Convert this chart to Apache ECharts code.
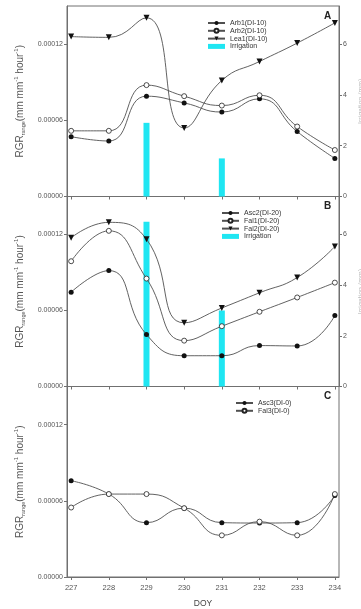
<!DOCTYPE html>
<html>
<head>
<meta charset="utf-8">
<script src="https://cdn.jsdelivr.net/npm/echarts@6/dist/echarts.min.js"></script>
<style>html,body{margin:0;padding:0;background:#fff;}#c{width:361px;height:609px;}</style>
</head>
<body>
<div id="c"></div>
<script>
const days = [227, 228, 229, 230, 231, 232, 233, 234];
const xTicks = [227, 228, 229, 230, 231, 232, 233, 234];
const yTicks = [0, 0.00006, 0.00012];
const irrTicks = [0, 2, 4, 6];

// Panel A
const arb1 = [0.0000471, 0.0000437, 0.0000790, 0.0000737, 0.0000665, 0.0000769, 0.0000511, 0.0000300];
const arb2 = [0.0000517, 0.0000517, 0.0000877, 0.0000790, 0.0000716, 0.0000797, 0.0000551, 0.0000366];
const lea1 = [0.0001259, 0.0001253, 0.0001407, 0.0000540, 0.0000914, 0.0001063, 0.0001208, 0.0001367];
const irrDaysA = [229, 231];
const irrA = [2.9, 1.5];

// Panel B
const asc2 = [0.0000745, 0.0000915, 0.0000410, 0.0000243, 0.0000243, 0.0000323, 0.0000320, 0.0000560];
const fal1 = [0.0000989, 0.0001229, 0.0000852, 0.0000362, 0.0000476, 0.0000590, 0.0000703, 0.0000820];
const fal2 = [0.0001174, 0.0001296, 0.0001163, 0.0000503, 0.0000620, 0.0000740, 0.0000860, 0.0001105];
const irrDaysB = [229, 231];
const irrB = [6.5, 3.0];

// Panel C
const asc3 = [0.0000758, 0.0000653, 0.0000428, 0.0000542, 0.0000428, 0.0000425, 0.0000428, 0.0000642];
const fal3 = [0.0000547, 0.0000653, 0.0000653, 0.0000542, 0.0000328, 0.0000436, 0.0000328, 0.0000653];

const FONT = '"Liberation Sans", Arial, sans-serif';
const AX = '#707070';
const LINE = '#505050';
const CYAN = '#1fe6f2';

const pair = (xs, ys) => xs.map((x, i) => [x, ys[i]]);

const grids = [
  {left: 67, right: 22, top: 6, height: 190.5},
  {left: 67, right: 22, top: 196.5, height: 190},
  {left: 67, right: 22, top: 386.5, height: 190.5}
].map(g => Object.assign(g, {show: true, borderColor: AX, borderWidth: 1, containLabel: false, outerBoundsMode: 'none'}));

function xAxis(i, labels) {
  return {
    type: 'value', gridIndex: i, min: 226.89, max: 234.11,
    splitLine: {show: false},
    axisLine: {show: true, lineStyle: {color: AX, width: 1}},
    axisTick: {show: true, length: 3, lineStyle: {color: AX}, customValues: xTicks},
    axisLabel: {show: labels, fontSize: 7.5, color: '#555', fontFamily: FONT, margin: 7, customValues: xTicks},
    name: labels ? 'DOY' : '', nameLocation: 'middle', nameGap: 22,
    nameTextStyle: {fontSize: 8.5, color: '#444', fontFamily: FONT}
  };
}

const yName = '{a|RGR}{s|range}{a|(mm mm}{u|-1}{a| hour}{u|-1}{a|)}';
const yRich = {
  a: {fontSize: 10, lineHeight: 13, color: '#555', fontFamily: FONT},
  s: {fontSize: 5.5, lineHeight: 7, verticalAlign: 'bottom', color: '#555', fontFamily: FONT},
  u: {fontSize: 6, lineHeight: 7, verticalAlign: 'top', color: '#555', fontFamily: FONT}
};

function yLeft(i) {
  return {
    type: 'value', gridIndex: i, min: 0, max: 0.00015, position: 'left',
    splitLine: {show: false},
    axisLine: {show: true, lineStyle: {color: AX, width: 1}},
    axisTick: {show: true, length: 3, lineStyle: {color: AX}, customValues: yTicks},
    axisLabel: {fontSize: 7, color: '#555', fontFamily: FONT, margin: 4, customValues: yTicks,
      formatter: v => v.toFixed(5)},
    name: yName, nameLocation: 'middle', nameRotate: 90, nameGap: 39,
    nameTextStyle: {rich: yRich}
  };
}

function yRight(i) {
  return {
    type: 'value', gridIndex: i, min: 0, max: 7.5, position: 'right',
    splitLine: {show: false},
    axisLine: {show: true, lineStyle: {color: AX, width: 1}},
    axisTick: {show: true, length: 3, lineStyle: {color: AX}, customValues: irrTicks},
    axisLabel: {fontSize: 7, color: '#555', fontFamily: FONT, margin: 4, customValues: irrTicks},
    name: 'Irrigation (mm)', nameLocation: 'middle', nameRotate: 90, nameGap: 16,
    nameTextStyle: {fontSize: 7, color: '#bbb', fontFamily: FONT}
  };
}

function lineSeries(name, data, xi, yi, kind) {
  let symbol = 'circle', itemStyle = {color: '#111'}, rot = 0, size = 5;
  if (kind === 'open') itemStyle = {color: '#fff', borderColor: '#222', borderWidth: 0.8};
  if (kind === 'tri') { symbol = 'triangle'; rot = 180; size = 6; }
  return {
    name, type: 'line', xAxisIndex: xi, yAxisIndex: yi, data: pair(days, data),
    smooth: 0.5, symbol, symbolSize: size, symbolRotate: rot, itemStyle,
    lineStyle: {color: LINE, width: 0.9}, z: 5, animation: false
  };
}

function barSeries(xs, ys, xi, yi) {
  return {
    name: 'Irrigation', type: 'bar', xAxisIndex: xi, yAxisIndex: yi,
    data: pair(xs, ys), barWidth: 6, itemStyle: {color: CYAN}, z: 2, animation: false
  };
}

function legend(names, left, top) {
  return {
    orient: 'vertical', left, top, itemWidth: 17, itemHeight: 5, itemGap: 0.8,
    padding: 0, selectedMode: false,
    textStyle: {fontSize: 7, lineHeight: 7, color: '#333', fontFamily: FONT},
    data: names.map(n => n === 'Irrigation' ? {name: n, icon: 'rect'} : n)
  };
}

const letter = (t, top) => ({text: t, left: 324, top, padding: 0,
  textStyle: {fontSize: 10, fontWeight: 'bold', color: '#222', fontFamily: FONT}});

const option = {
  animation: false,
  backgroundColor: '#fff',
  title: [letter('A', 11), letter('B', 201), letter('C', 391)],
  grid: grids,
  xAxis: [xAxis(0, false), xAxis(1, false), xAxis(2, true)],
  yAxis: [yLeft(0), yRight(0), yLeft(1), yRight(1), yLeft(2)],
  legend: [
    legend(['Arb1(DI-10)', 'Arb2(DI-10)', 'Lea1(DI-10)', 'Irrigation'], 207, 19.5),
    legend(['Asc2(DI-20)', 'Fal1(DI-20)', 'Fal2(DI-20)', 'Irrigation'], 221, 209.5),
    legend(['Asc3(DI-0)', 'Fal3(DI-0)'], 235, 399.5)
  ],
  series: [
    barSeries(irrDaysA, irrA, 0, 1),
    lineSeries('Arb1(DI-10)', arb1, 0, 0, 'filled'),
    lineSeries('Arb2(DI-10)', arb2, 0, 0, 'open'),
    lineSeries('Lea1(DI-10)', lea1, 0, 0, 'tri'),
    barSeries(irrDaysB, irrB, 1, 3),
    lineSeries('Asc2(DI-20)', asc2, 1, 2, 'filled'),
    lineSeries('Fal1(DI-20)', fal1, 1, 2, 'open'),
    lineSeries('Fal2(DI-20)', fal2, 1, 2, 'tri'),
    lineSeries('Asc3(DI-0)', asc3, 2, 4, 'filled'),
    lineSeries('Fal3(DI-0)', fal3, 2, 4, 'open')
  ]
};

const chart = echarts.init(document.getElementById('c'), null, {renderer: 'canvas'});
chart.setOption(option);
</script>
</body>
</html>
